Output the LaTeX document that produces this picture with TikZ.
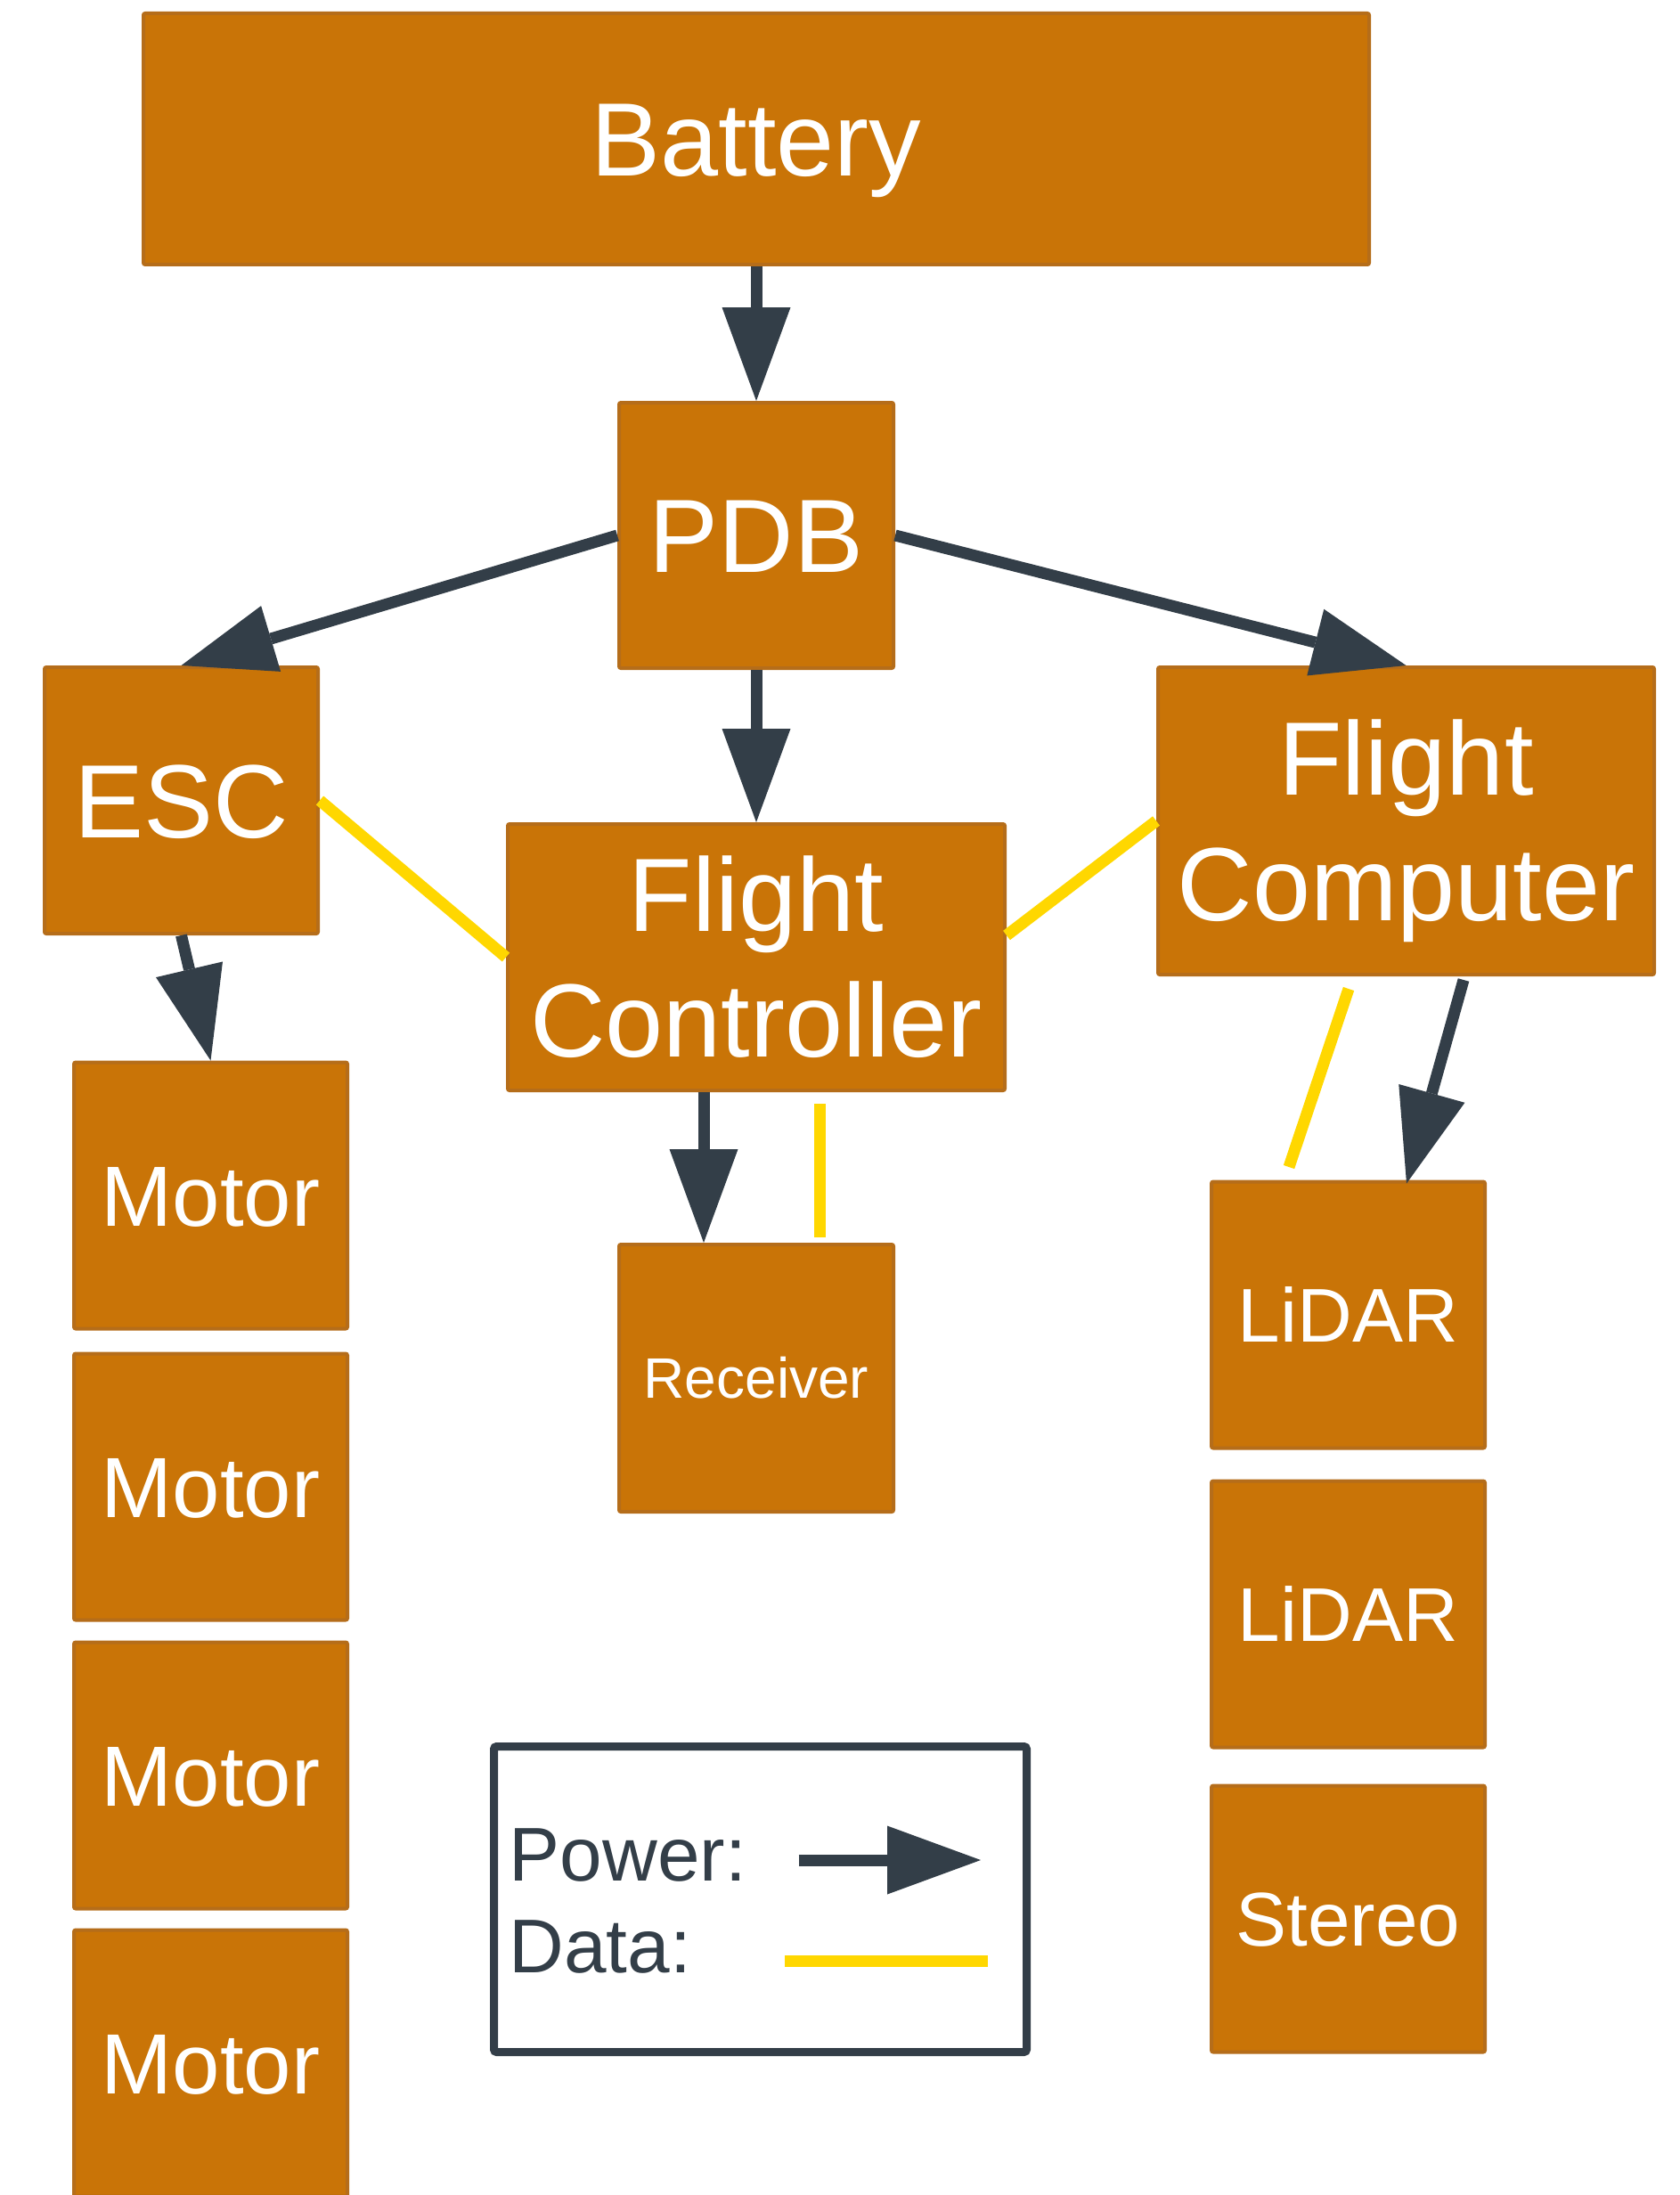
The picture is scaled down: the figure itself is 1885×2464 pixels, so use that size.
\documentclass[tikz,border=0pt]{standalone}
\usepackage{fontspec}
\setmainfont{Liberation Sans}
\usetikzlibrary{arrows.meta,calc}
\definecolor{boxfill}{HTML}{C97407}
\definecolor{boxline}{HTML}{B56D1A}
\definecolor{slate}{HTML}{333E48}
\definecolor{gold}{HTML}{FFD700}
\tikzset{
  blk/.style={draw=boxline, line width=4pt, fill=boxfill, rounded corners=2pt, inner sep=0pt, text=white},
  bigtxt/.style={font=\fontsize{117}{141}\selectfont, text height=83.8pt, text depth=0pt},
  mottxt/.style={font=\fontsize{96}{110}\selectfont, text height=68.7pt, text depth=0pt},
  midtxt/.style={font=\fontsize{85.5}{100}\selectfont, text height=61.2pt, text depth=0pt},
  smalltxt/.style={font=\fontsize{64}{75}\selectfont, text height=45.8pt, text depth=0pt},
  lbl/.style={font=\fontsize{117}{141}\selectfont, text=white, inner sep=0pt},
  legtxt/.style={font=\fontsize{85.5}{100}\selectfont, text=slate, inner sep=0pt},
  pwr/.style={draw=slate, line width=13pt, -{Triangle[length=105pt,width=77pt,line width=0pt]}},
  dat/.style={draw=gold, line width=13pt},
  smallbox/.style={blk, minimum width=307pt, minimum height=299pt},
}
\begin{document}
\begin{tikzpicture}[x=1pt,y=-1pt]
\useasboundingbox (0,0) rectangle (1885,2464);
\clip (0,0) rectangle (1885,2464);

% boxes
\node[blk, bigtxt, minimum width=1376pt, minimum height=282pt] (battery) at (849,156) {Battery};
\node[blk, bigtxt, minimum width=308pt, minimum height=298pt] (pdb) at (849,601) {PDB};
\node[blk, bigtxt, minimum width=307pt, minimum height=299pt] (esc) at (203.5,898.5) {ESC};

\node[blk, minimum width=558pt, minimum height=299pt] (fc) at (849,1074.5) {};
\node[lbl, anchor=base] (fct1) at ($(fc.center)+(0,-29.5)$) {Flight};
\node[lbl, anchor=base] (fct2) at ($(fc.center)+(0,111.5)$) {Controller};

\node[blk, minimum width=557pt, minimum height=345pt] (fcomp) at (1578.5,921.5) {};
\node[lbl, anchor=base] (fcmt1) at ($(fcomp.center)+(0,-29.5)$) {Flight};
\node[lbl, anchor=base] (fcmt2) at ($(fcomp.center)+(0,111.5)$) {Computer};

\node[smallbox, smalltxt, minimum width=308pt, minimum height=300pt] (rx) at (849,1547) {Receiver};

\node[smallbox, mottxt] (m1) at (236.5,1342) {Motor};
\node[smallbox, mottxt] (m2) at (236.5,1669) {Motor};
\node[smallbox, mottxt] (m3) at (236.5,1993) {Motor};
\node[smallbox, mottxt] (m4) at (236.5,2316) {Motor};

\node[smallbox, midtxt] (l1) at (1513.5,1476) {LiDAR};
\node[smallbox, midtxt] (l2) at (1513.5,1812) {LiDAR};
\node[smallbox, midtxt] (st) at (1513.5,2154) {Stereo};

% power connectors
\draw[pwr] (battery.south) -- (pdb.north);
\draw[pwr] (pdb.west) -- (esc.north);
\draw[pwr] (pdb.south) -- (fc.north);
\draw[pwr] (pdb.east) -- (fcomp.north);
\draw[pwr] (esc.south) -- (m1.north);
\draw[pwr] (790,0 |- fc.south) -- (790,0 |- rx.north);
\draw[pwr] ($(fcomp.south)+(64.5,4)$) -- ($(l1.north)+(65.5,4)$);

% data connectors
\draw[dat] (esc.east) -- (fc.west);
\draw[dat] ($(fc.east)+(0,-24.5)$) -- (fcomp.west);
\draw[dat] ($(920,0 |- fc.south)+(0,13)$) -- ($(920,0 |- rx.north)+(0,-6)$);
\draw[dat] ($(fcomp.south)+(-64.5,14)$) -- ($(l1.north)+(-66.5,-14.5)$);

% legend
\node[draw=slate, line width=9pt, rounded corners=3pt, minimum width=598pt, minimum height=343pt, inner sep=0pt] (legend) at (853.5,2132) {};
\node[legtxt, anchor=base west] (lgp) at (571.5,2111) {Power:};
\node[legtxt, anchor=base west] (lgd) at (571.5,2214) {Data:};
\coordinate (pa) at (896.5,2088);
\coordinate (pb) at (1101,2088);
\draw[pwr] (pa) -- (pb);
\coordinate (da) at (881,2201);
\coordinate (db) at (1109,2201);
\draw[dat] (da) -- (db);
\end{tikzpicture}
\end{document}
